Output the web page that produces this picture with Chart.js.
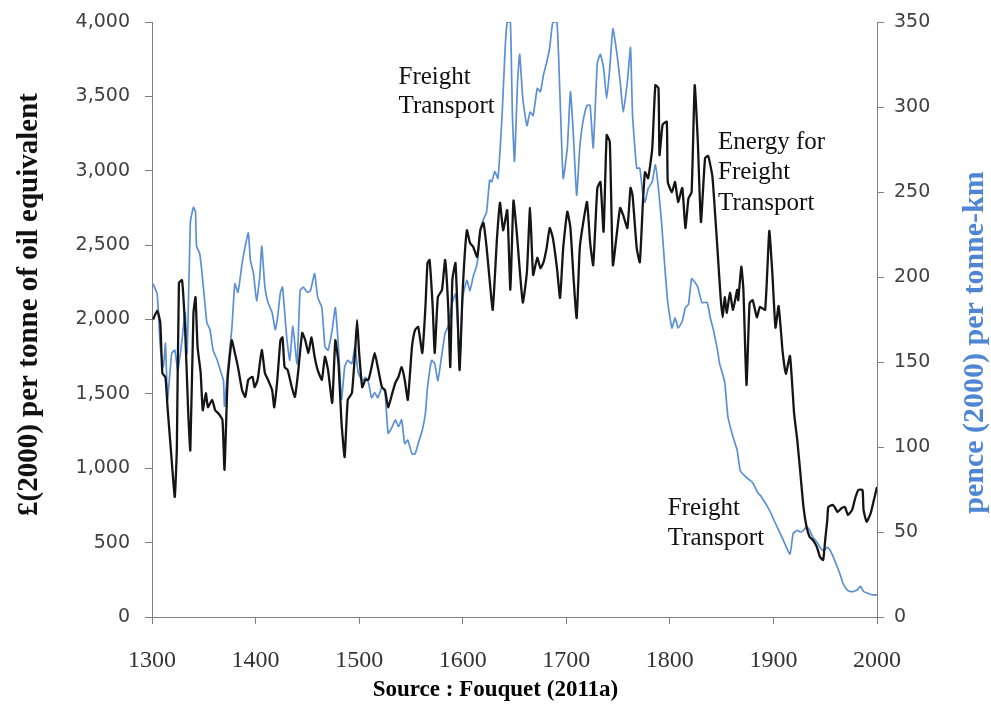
<!DOCTYPE html>
<html><head><meta charset="utf-8">
<script src="https://cdn.jsdelivr.net/npm/chart.js@4.4.1/dist/chart.umd.min.js"></script>
<style>html,body{margin:0;padding:0;background:#fff;overflow:hidden}#wrap{width:991px;height:707px}</style>
</head><body><div id="wrap"><canvas id="c" width="991" height="707"></canvas></div>
<script>
// Energy for freight transport, £(2000) per tonne of oil equivalent (left axis)
const energyYears = [1301,1305,1308,1310,1313,1315,1319,1322,1324,1326,1329,1332,1335,1337,1340,1342,1344,1347,1349,1352,1354,1358,1361,1364,1368,1370,1373,1377,1380,1383,1387,1390,1393,1397,1399,1402,1406,1409,1412,1416,1418,1421,1424,1426,1428,1431,1435,1438,1441,1445,1448,1451,1454,1457,1460,1464,1467,1470,1474,1477,1480,1483,1486,1489,1493,1496,1498,1500,1503,1506,1509,1512,1515,1518,1522,1525,1528,1532,1535,1538,1541,1544,1547,1551,1554,1557,1561,1564,1566,1568,1571,1573,1576,1580,1583,1586,1588,1590,1593,1595,1597,1600,1604,1607,1610,1614,1617,1620,1623,1626,1629,1633,1636,1639,1643,1646,1649,1652,1658,1662,1665,1668,1672,1675,1678,1681,1684,1687,1691,1694,1697,1701,1704,1707,1710,1713,1716,1720,1723,1726,1730,1733,1736,1739,1742,1745,1749,1752,1755,1759,1762,1764,1768,1771,1774,1776,1779,1783,1786,1789,1790,1793,1797,1798,1802,1805,1808,1812,1815,1818,1821,1824,1827,1830,1834,1837,1841,1843,1846,1849,1851,1853,1855,1858,1861,1865,1866,1869,1871,1874,1877,1880,1884,1887,1892,1896,1899,1902,1905,1909,1912,1916,1920,1923,1926,1929,1932,1935,1938,1942,1945,1948,1950,1952,1953,1957,1959,1962,1966,1969,1972,1976,1979,1982,1986,1987,1990,1994,1997,2000];
const energyValues = [2000,2060,1980,1640,1610,1410,1055,807,1140,2245,2265,1930,1370,1120,2040,2150,1815,1640,1390,1505,1410,1460,1390,1370,1325,990,1595,1860,1775,1680,1525,1480,1595,1615,1545,1595,1795,1640,1595,1525,1410,1595,1860,1880,1680,1660,1545,1480,1640,1910,1860,1775,1880,1750,1660,1595,1750,1660,1440,1860,1710,1305,1075,1460,1505,1775,1995,1775,1545,1595,1595,1680,1775,1680,1545,1525,1410,1505,1575,1615,1680,1595,1460,1815,1930,1950,1775,2085,2380,2400,2085,1775,2150,2200,2400,2085,1680,2265,2380,2045,1660,2200,2600,2515,2490,2420,2600,2650,2490,2265,2065,2535,2785,2600,2735,2200,2800,2600,2115,2320,2750,2300,2415,2345,2385,2480,2615,2550,2345,2145,2480,2725,2615,2280,2010,2480,2635,2790,2520,2365,2885,2925,2590,3240,3195,2365,2590,2750,2700,2615,2885,2835,2480,2385,2790,2990,2950,3150,3575,3555,3105,3310,3330,2925,2855,2925,2790,2885,2615,2815,2855,3575,3195,2655,3085,3100,2965,2780,2470,2150,2015,2150,2045,2180,2065,2200,2130,2355,2200,1560,2110,2130,2015,2085,2065,2595,2305,1945,2090,1775,1635,1755,1365,1190,968,740,605,538,518,470,403,383,518,652,740,753,740,706,733,740,686,720,800,854,854,720,640,700,787,874];

// Freight transport, pence (2000) per tonne-km (right axis)
const freightYears = [1301,1305,1308,1311,1313,1315,1319,1322,1325,1329,1332,1334,1337,1340,1342,1343,1346,1348,1351,1353,1356,1359,1363,1366,1369,1370,1373,1377,1380,1383,1387,1390,1393,1395,1398,1401,1404,1406,1409,1412,1416,1419,1421,1424,1426,1430,1433,1436,1440,1443,1446,1450,1453,1457,1460,1464,1467,1470,1474,1477,1480,1483,1486,1489,1493,1496,1499,1503,1506,1509,1512,1515,1518,1522,1525,1528,1532,1535,1538,1541,1544,1547,1551,1554,1557,1561,1564,1566,1570,1573,1576,1580,1583,1586,1590,1593,1595,1597,1600,1604,1607,1610,1614,1617,1620,1623,1626,1628,1631,1634,1638,1641,1643,1646,1648,1650,1653,1655,1658,1662,1665,1668,1672,1675,1678,1681,1684,1687,1691,1694,1697,1701,1704,1707,1710,1713,1716,1720,1723,1726,1730,1733,1736,1739,1742,1745,1749,1752,1755,1759,1762,1764,1768,1771,1774,1776,1779,1783,1786,1789,1792,1795,1798,1802,1805,1808,1812,1815,1818,1821,1824,1827,1831,1836,1839,1842,1846,1848,1850,1853,1856,1860,1865,1868,1874,1880,1885,1888,1896,1902,1909,1916,1919,1923,1926,1929,1932,1935,1938,1942,1945,1948,1952,1955,1958,1962,1965,1967,1971,1974,1977,1981,1984,1987,1991,1996,2000];
const freightValues = [196,190,159,147,161,128,155,157,145,163,179,155,232,241,238,218,214,204,185,173,169,157,151,145,139,124,145,169,196,191,208,218,226,210,202,186,200,218,194,185,179,169,175,191,194,165,151,171,149,192,194,191,192,202,188,182,159,157,169,182,159,128,147,151,149,159,144,139,141,138,129,132,129,135,132,108,112,116,112,116,102,104,96,96,102,110,120,135,151,149,139,155,167,171,185,190,173,147,188,198,192,200,208,228,234,238,257,256,262,258,295,335,350,350,295,268,315,331,305,289,297,295,311,309,319,326,335,350,350,305,258,276,309,282,248,276,291,301,301,276,326,331,323,305,323,346,331,315,297,315,335,295,264,264,248,244,252,256,266,252,232,207,185,170,176,170,174,182,184,199,197,194,185,185,176,169,157,149,145,138,118,108,98,86,82,79,73,71,63,55,46,37,49,51,50,51,53,51,47,44,41,39,41,39,35,29,24,20,16,15,15,16,18,15,14,13,13];

const xTickYears = [1300,1400,1500,1600,1700,1800,1900,2000];
const leftTickValues = [0,500,1000,1500,2000,2500,3000,3500,4000];
const rightTickValues = [0,50,100,150,200,250,300,350];

const notes = [
  {lines:['Freight','Transport'], year:1538, values:[3624,3435]},
  {lines:['Energy for','Freight','Transport'], year:1846.5, values:[3193,2992,2783]},
  {lines:['Freight','Transport'], year:1798, values:[733,531]}
];

const SERIF = '"Liberation Serif","Times New Roman",serif';
const SANS = '"DejaVu Sans",Verdana,sans-serif';
const AXIS = '#808080';

const drawVertical = (ctx, text, cx, cy, font, color) => {
  ctx.save();
  ctx.translate(cx, cy);
  ctx.rotate(-Math.PI/2);
  ctx.font = font;
  ctx.fillStyle = color;
  ctx.textAlign = 'center';
  ctx.textBaseline = 'middle';
  ctx.fillText(text, 0, 0);
  ctx.restore();
};

const notesPlugin = {
  id:'notes',
  afterDatasetsDraw(chart){
    const {ctx, scales:{x, yL, yR}, chartArea} = chart;
    ctx.save();
    ctx.font = '25px ' + SERIF;
    ctx.fillStyle = '#111';
    ctx.textBaseline = 'middle';
    ctx.textAlign = 'left';
    notes.forEach(n => n.lines.forEach((t,i) => ctx.fillText(t, x.getPixelForValue(n.year), yL.getPixelForValue(n.values[i]))));
    ctx.restore();
    const mid = (chartArea.top + chartArea.bottom)/2;
    drawVertical(ctx, '£(2000) per tonne of oil equivalent', yL.left + 30, mid - 15, 'bold 29px ' + SERIF, '#111');
    drawVertical(ctx, 'pence (2000) per tonne-km', yR.right - 16, mid + 23, 'bold 30px ' + SERIF, '#4f86d4');
  }
};

const pts = (xs, ys) => xs.map((v,i) => ({x:v, y:ys[i]}));
const noVPad = s => { s.paddingTop = 0; s.paddingBottom = 0; };

new Chart(document.getElementById('c'), {
  type:'line',
  data:{datasets:[
    {label:'Energy for Freight Transport', data:pts(energyYears, energyValues), yAxisID:'yL',
     borderColor:'#151515', borderWidth:2.3, pointRadius:0, tension:0.15, fill:false},
    {label:'Freight Transport', data:pts(freightYears, freightValues), yAxisID:'yR',
     borderColor:'#5b8fd6', borderWidth:1.7, pointRadius:0, tension:0.15, fill:false}
  ]},
  options:{
    responsive:false, animation:false, devicePixelRatio:1,
    layout:{padding:{top:22,left:0,right:0,bottom:0}},
    plugins:{
      legend:{display:false}, tooltip:{enabled:false},
      title:{display:true, position:'bottom', text:'Source : Fouquet (2011a)', color:'#000',
        font:{family:SERIF, size:23, weight:'bold'}, padding:{top:0,bottom:3}}
    },
    scales:{
      x:{type:'linear', min:1300, max:2000, position:'bottom',
        afterBuildTicks:s => { s.ticks = xTickYears.map(v => ({value:v})); },
        ticks:{color:'#333', font:{family:SERIF, size:24}, padding:22, maxRotation:0, callback:v => String(v)},
        grid:{display:true, drawOnChartArea:false, drawTicks:true, tickLength:7, color:AXIS},
        border:{display:true, color:AXIS, width:1},
        afterFit:s => { s.height = 59.4; }
      },
      yL:{position:'left', min:0, max:4000,
        afterBuildTicks:s => { s.ticks = leftTickValues.map(v => ({value:v})); },
        ticks:{color:'#404040', font:{family:SANS, size:19}, padding:15, callback:v => v.toLocaleString('en-US')},
        grid:{display:true, drawOnChartArea:false, drawTicks:true, tickLength:7, color:AXIS},
        border:{display:true, color:AXIS, width:1},
        title:{display:false},
        afterFit:s => { s.width = 152; noVPad(s); }
      },
      yR:{position:'right', min:0, max:350,
        afterBuildTicks:s => { s.ticks = rightTickValues.map(v => ({value:v})); },
        ticks:{color:'#404040', font:{family:SANS, size:19}, padding:10},
        grid:{display:true, drawOnChartArea:false, drawTicks:true, tickLength:7, color:AXIS},
        border:{display:true, color:AXIS, width:1},
        afterFit:s => { s.width = 114; noVPad(s); }
      }
    }
  },
  plugins:[notesPlugin]
});
</script></body></html>
